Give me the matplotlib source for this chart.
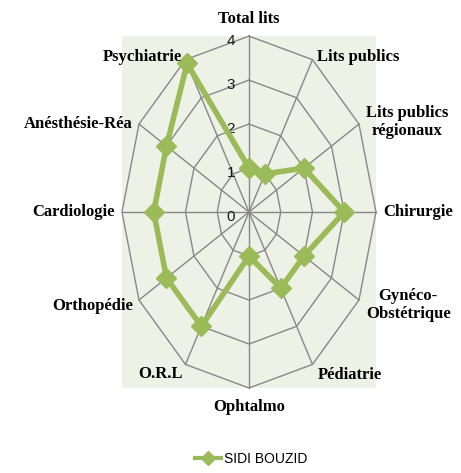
import numpy as np
import matplotlib
matplotlib.use("Agg")
import matplotlib.pyplot as plt
from matplotlib.lines import Line2D

categories = ["Total lits", "Lits publics", "Lits publics\nrégionaux", "Chirurgie",
              "Gynéco-\nObstétrique", "Pédiatrie", "Ophtalmo", "O.R.L",
              "Orthopédie", "Cardiologie", "Anésthésie-Réa", "Psychiatrie"]
values = [1.0, 1.0, 2.0, 3.0, 2.0, 2.0, 1.0, 3.0, 3.0, 3.0, 3.0, 3.9]
ticks = [0, 1, 2, 3, 4]
series_name = "SIDI BOUZID"

green = "#9BBB59"
grid = "#888888"

n = len(categories)
theta = np.arange(n) * 2 * np.pi / n

def to_xy(r, th):
    return r * np.sin(th), r * np.cos(th)

fig = plt.figure(figsize=(4.61, 4.73), dpi=100)
ax = fig.add_axes([0.2646, 0.1797, 0.551, 0.744])
ax.set_facecolor("#EEF1E6")
ax.set_xlim(-4, 4)
ax.set_ylim(-4, 4)
for s in ax.spines.values():
    s.set_visible(False)
ax.set_xticks([])
ax.set_yticks([])

# polygon grid + spokes
th_closed = np.append(theta, theta[0])
for t in ticks[1:]:
    x, y = to_xy(t, th_closed)
    ax.plot(x, y, color=grid, lw=1, zorder=1, clip_on=False)
for th in theta:
    x, y = to_xy(np.array([0, ticks[-1]]), th)
    ax.plot(x, y, color=grid, lw=1, zorder=1, clip_on=False)

# tick labels
for t in ticks:
    ax.annotate(str(t), (0, t), xytext=(-18, -5), textcoords="offset pixels",
                ha="center", va="center", fontsize=11,
                family="Liberation Sans", color="#1a1a1a")

# data
v = np.append(values, values[0])
x, y = to_xy(v, th_closed)
ax.plot(x, y, color=green, lw=4, marker="D", ms=10, zorder=3, clip_on=False)

# category labels: pixel offsets from outer vertex
offsets = [(0, 9), (5, 3), (7, 2), (7, 0), (7, -5), (5, -11),
           (0, -11), (-3, -10), (-6, -6), (-7, 0), (-6, 0), (-3, 3)]
for cat, th, off in zip(categories, theta, offsets):
    s, c = np.sin(th), np.cos(th)
    ha = "center" if abs(s) < 0.01 else ("left" if s > 0 else "right")
    if c > 0.99:
        va = "bottom"
    elif c < -0.99:
        va = "top"
    else:
        va = "center"
    ax.annotate(cat, to_xy(ticks[-1], th), xytext=off, textcoords="offset pixels",
                ha=ha, va=va, fontsize=12, fontweight="bold",
                family="Liberation Serif", linespacing=1.1,
                multialignment="center", annotation_clip=False)

handle = Line2D([], [], color=green, lw=3, marker="D", ms=7)
fig.legend([handle], [series_name], loc="center", bbox_to_anchor=(0.545, 0.03),
           frameon=False, handlelength=1.9, handletextpad=0.2,
           prop={"family": "Liberation Sans", "size": 10})

fig.savefig("out.png", dpi=100)
